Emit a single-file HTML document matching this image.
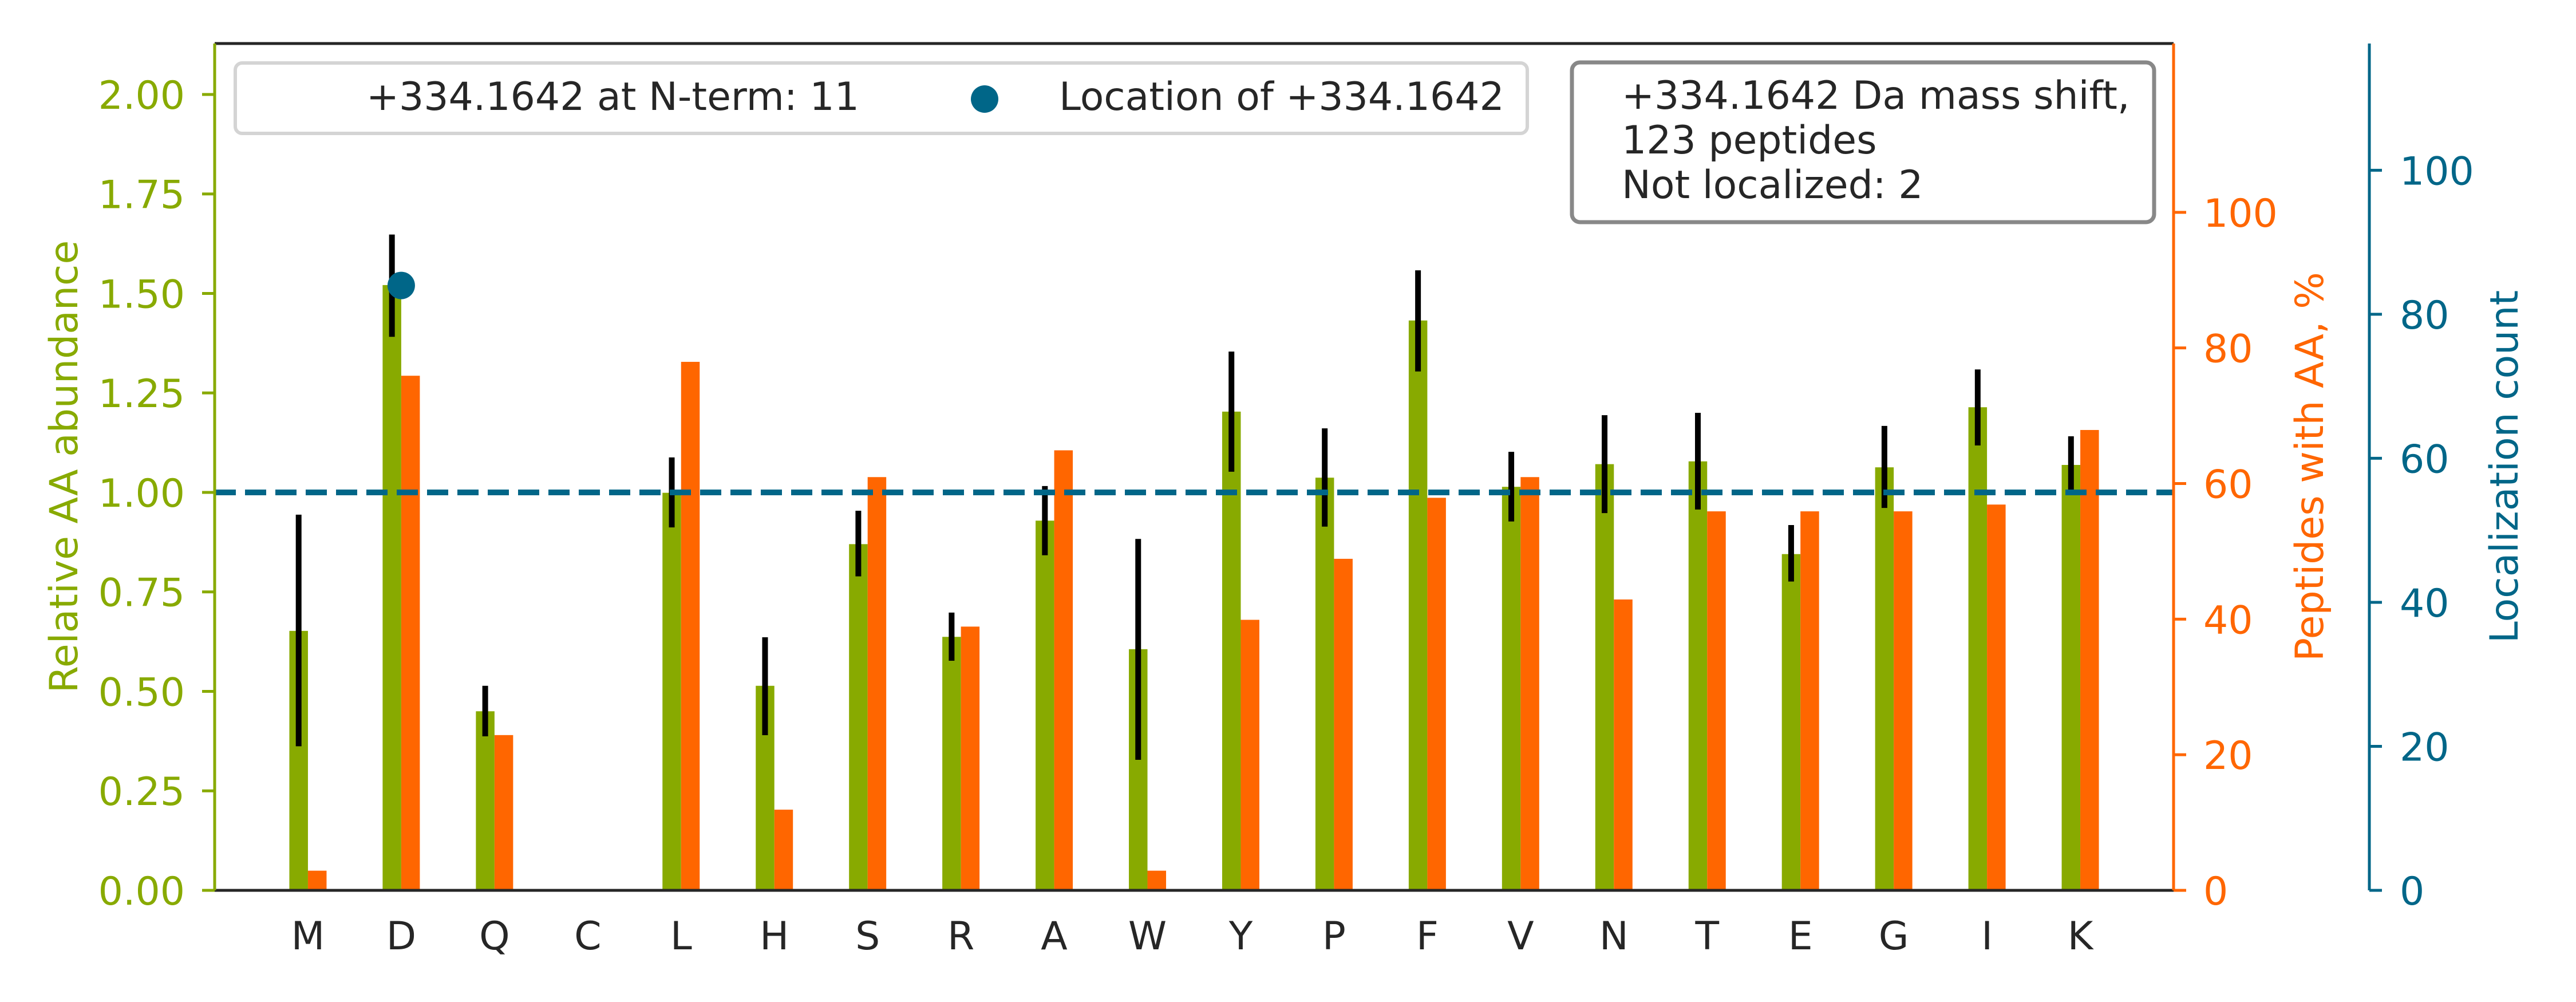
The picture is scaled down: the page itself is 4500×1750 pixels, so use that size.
<!DOCTYPE html>
<html><head><meta charset="utf-8"><style>
html,body{margin:0;padding:0;background:#fff;}
svg{display:block;font-family:"DejaVu Sans","Liberation Sans",sans-serif;}
</style></head><body>
<svg id="chart" xmlns="http://www.w3.org/2000/svg" width="4500" height="1750" viewBox="0 0 4500 1750">
<rect x="0" y="0" width="4500" height="1750" fill="#fff"/>
<g id="bars"></g>
<g id="axes"></g>
<g>
<rect x="411" y="110" width="2257" height="123" rx="12" fill="#fff" stroke="#d4d4d4" stroke-width="6"/>
<text x="640" y="192" font-size="68" fill="#262626">+334.1642 at N-term: 11</text>
<circle cx="1720" cy="173" r="24" fill="#006688"/>
<text x="1850" y="192" font-size="68" fill="#262626">Location of +334.1642</text>
</g>
<g>
<rect x="2746" y="109" width="1017" height="279" rx="14" fill="#fff" stroke="#888" stroke-width="7"/>
<text x="2833" y="190" font-size="68" fill="#262626">+334.1642 Da mass shift,</text>
<text x="2833" y="268" font-size="68" fill="#262626">123 peptides</text>
<text x="2833" y="346" font-size="68" fill="#262626">Not localized: 2</text>
</g>
</svg>
<script>
const categories = ["M","D","Q","C","L","H","S","R","A","W","Y","P","F","V","N","T","E","G","I","K"];
const abundance = [0.652,1.521,0.450,0,0.999,0.514,0.870,0.637,0.929,0.606,1.203,1.037,1.432,1.014,1.071,1.078,0.845,1.063,1.214,1.069];
const errLow = [0.362,1.391,0.387,0,0.912,0.390,0.789,0.577,0.842,0.328,1.052,0.914,1.304,0.927,0.948,0.957,0.776,0.961,1.118,0.999];
const errHigh = [0.944,1.648,0.514,0,1.088,0.636,0.954,0.698,1.016,0.883,1.354,1.161,1.558,1.102,1.194,1.200,0.918,1.167,1.309,1.141];
const peptidePct = [2.9,75.9,22.9,0,77.95,11.9,60.95,38.9,64.9,2.9,39.9,48.9,57.9,60.95,42.9,55.9,55.9,55.9,56.9,67.9];
const locCategory = ["D"];
const locCount = [84];
const leftTicks = [0,0.25,0.5,0.75,1.0,1.25,1.5,1.75,2.0];
const leftTickLabels = ["0.00","0.25","0.50","0.75","1.00","1.25","1.50","1.75","2.00"];
const pctTicks = [0,20,40,60,80,100];
const countTicks = [0,20,40,60,80,100];

const NS="http://www.w3.org/2000/svg";
const X0=375, X1=3797, Y0=1555, YT=76;
const GREEN="#88aa00", ORANGE="#ff6600", BLUE="#006688", DARK="#262626";
function xc(i){ return X0 + (i+1)*(X1-X0)/21; }
function yL(v){ return Y0 - v*(Y0-YT)/2.128; }
function yP(v){ return Y0 - v*(Y0-YT)/124.9; }
function yC(v){ return Y0 - v*(Y0-YT)/117.6; }
const BW=32.5;
function mk(tag, attrs, parent){ const e=document.createElementNS(NS,tag); for(const k in attrs) e.setAttribute(k,attrs[k]); parent.appendChild(e); return e; }
const bars=document.getElementById('bars'), axes=document.getElementById('axes');

categories.forEach((c,i)=>{
  const cx=xc(i);
  if(abundance[i]>0){
    const g=mk('rect',{x:cx-BW,y:yL(abundance[i]),width:BW,height:Y0-yL(abundance[i]),fill:GREEN},bars);
    
    
  }
  if(peptidePct[i]>0){
    const o=mk('rect',{x:cx,y:yP(peptidePct[i]),width:BW,height:Y0-yP(peptidePct[i]),fill:ORANGE},bars);
    
    
  }
  if(errHigh[i]>0){
    const e=mk('line',{x1:cx-BW/2,x2:cx-BW/2,y1:yL(errLow[i]),y2:yL(errHigh[i]),stroke:"#000","stroke-width":10},bars);
    
    
  }
  const t=mk('text',{x:cx,y:1658,"font-size":68,fill:DARK,"text-anchor":"middle"},axes);
  t.textContent=c;
  
  
});

// reference dashed line
const dl=mk('line',{x1:X0,x2:X1,y1:yL(1),y2:yL(1),stroke:BLUE,"stroke-width":10,"stroke-dasharray":"37 16"},bars);



// location dots
locCategory.forEach((c,k)=>{
  const i=categories.indexOf(c);
  const d=mk('circle',{cx:xc(i),cy:yC(locCount[k]),r:24,fill:BLUE},bars);
  
  
});

// spines
let s;
s=mk('line',{x1:X0,x2:X1,y1:YT,y2:YT,stroke:DARK,"stroke-width":5},axes);
 
s=mk('line',{x1:X0,x2:X1,y1:Y0,y2:Y0,stroke:DARK,"stroke-width":5},axes);
 
s=mk('line',{x1:X0,x2:X0,y1:YT,y2:Y0,stroke:GREEN,"stroke-width":5},axes);
 
s=mk('line',{x1:X1,x2:X1,y1:YT,y2:Y0,stroke:ORANGE,"stroke-width":5},axes);
 
const XB=4139;
s=mk('line',{x1:XB,x2:XB,y1:YT,y2:Y0,stroke:BLUE,"stroke-width":5},axes);
 

leftTicks.forEach((v,k)=>{
  const y=yL(v);
  const tk=mk('line',{x1:X0-22,x2:X0,y1:y,y2:y,stroke:GREEN,"stroke-width":5},axes);
   
  const t=mk('text',{x:323,y:y+25,"font-size":68,fill:GREEN,"text-anchor":"end"},axes);
  t.textContent=leftTickLabels[k];
   
});
pctTicks.forEach(v=>{
  const y=yP(v);
  const tk=mk('line',{x1:X1,x2:X1+22,y1:y,y2:y,stroke:ORANGE,"stroke-width":5},axes);
   
  const t=mk('text',{x:3849,y:y+25,"font-size":68,fill:ORANGE},axes);
  t.textContent=String(v);
   
});
countTicks.forEach(v=>{
  const y=yC(v);
  const tk=mk('line',{x1:XB,x2:XB+22,y1:y,y2:y,stroke:BLUE,"stroke-width":5},axes);
   
  const t=mk('text',{x:4192,y:y+25,"font-size":68,fill:BLUE},axes);
  t.textContent=String(v);
   
});

function ylabel(txt,x,color,name){
  const t=mk('text',{x:0,y:0,"font-size":68,fill:color,"text-anchor":"middle",transform:`translate(${x},815) rotate(-90)`},axes);
  t.textContent=txt;
   
}
ylabel("Relative AA abundance",135,GREEN,'left-y-axis-title');
ylabel("Peptides with AA, %",4058,ORANGE,'pct-y-axis-title');
ylabel("Localization count",4398,BLUE,'count-y-axis-title');
</script>
</body></html>
